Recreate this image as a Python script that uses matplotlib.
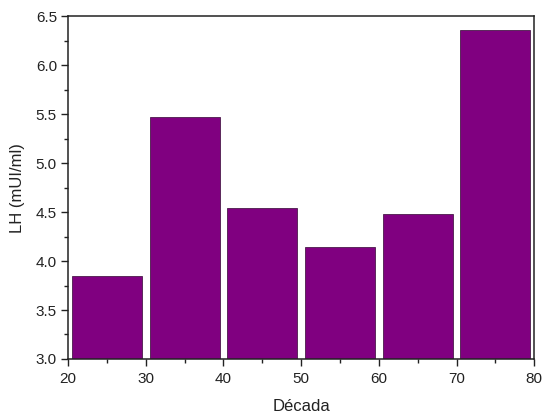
import matplotlib
matplotlib.use("Agg")
import matplotlib.pyplot as plt
from matplotlib.ticker import MultipleLocator

# data
decades = [25, 35, 45, 55, 65, 75]
lh_values = [3.85, 5.467, 4.539, 4.148, 4.478, 6.357]

plt.rcParams['font.family'] = ['Liberation Sans', 'DejaVu Sans']

fig = plt.figure(figsize=(5.44, 4.15), dpi=100)
ax = fig.add_axes([0.125, 0.135, 0.857, 0.826])

ax.bar(decades, [v - 3.0 for v in lh_values], bottom=3.0, width=9,
       color='#800080', edgecolor='#4a1a4a', linewidth=0.6)

ax.set_xlim(20, 80)
ax.set_ylim(3.0, 6.5)
ax.xaxis.set_major_locator(MultipleLocator(10))
ax.xaxis.set_minor_locator(MultipleLocator(5))
ax.yaxis.set_major_locator(MultipleLocator(0.5))
ax.yaxis.set_minor_locator(MultipleLocator(0.25))
ax.yaxis.set_major_formatter(plt.FormatStrFormatter('%.1f'))

ax.tick_params(which='major', direction='out', length=5, width=1, labelsize=11,
               colors='#222222', pad=3)
ax.tick_params(axis='x', which='major', pad=4.5)
ax.tick_params(which='minor', direction='out', length=3, width=1, colors='#222222')
for s in ax.spines.values():
    s.set_linewidth(1.1)
    s.set_color('#222222')

ax.set_xlabel('Década', fontsize=12, color='#222222', labelpad=9)
ax.set_ylabel('LH (mUI/ml)', fontsize=12, color='#222222', labelpad=8)

fig.savefig('out.png', dpi=100)
